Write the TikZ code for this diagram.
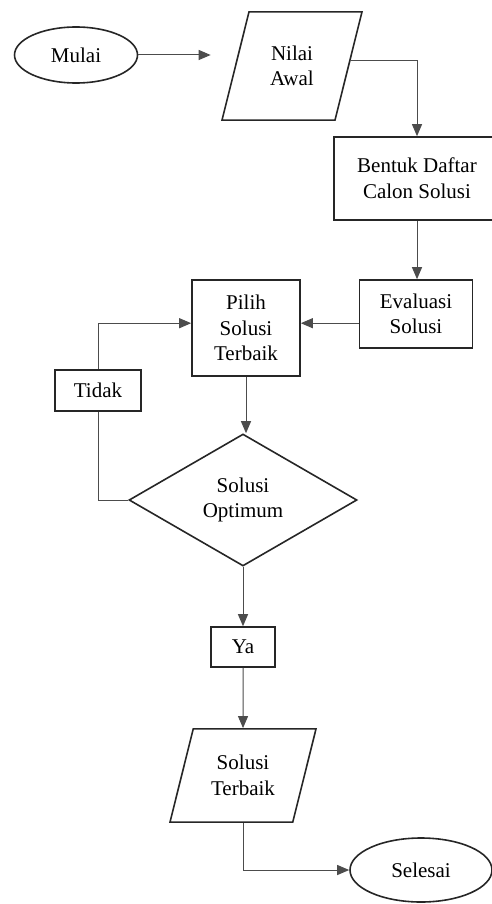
\documentclass[tikz,border=0pt]{standalone}
\usepackage{fontspec}
\setmainfont{Liberation Serif}
\usetikzlibrary{shapes.geometric}
\usetikzlibrary{arrows.meta}

\begin{document}
\begin{tikzpicture}
      [x=0.5pt,y=-0.5pt,
       every node/.style={font=\fontsize{10.5}{12.8}\selectfont,align=center,
                          draw=black!85,line width=0.8pt,inner sep=0pt},
       term/.style={ellipse},
       io/.style={trapezium,trapezium left angle=76,trapezium right angle=104,
                  trapezium stretches body},
       proc/.style={rectangle},
       cond/.style={diamond},
       conn/.style={draw=black!70,line width=0.5pt},
       link/.style={conn,-{Triangle[length=6pt,width=5pt]}}]
    \useasboundingbox (0,0) rectangle (492,904);

    \node[term,minimum width=61.5pt,minimum height=28pt]  (mulai)  at (76,55)   {Mulai};
    \node[io,minimum width=70pt,inner ysep=17pt]          (nilai)  at (292,66)  {Nilai\\Awal};
    \node[proc,minimum width=83pt,minimum height=41.5pt]  (bentuk) at (417,178.5) {Bentuk Daftar\\Calon Solusi};
    \node[proc,minimum width=56.5pt,minimum height=34pt]  (eval)   at (416,314) {Evaluasi\\Solusi};
    \node[proc,minimum width=54pt,minimum height=48pt]    (pilih)  at (246,328) {Pilih\\Solusi\\Terbaik};
    \node[proc,minimum width=43pt,minimum height=20.5pt]  (tidak)  at (98,390.5) {Tidak};
    \node[cond,minimum width=114pt,minimum height=66pt]   (opt)    at (243,500) {Solusi\\Optimum};
    \node[proc,minimum width=32pt,minimum height=20pt]    (ya)     at (243,647) {Ya};
    \node[io,minimum width=73pt,inner ysep=13.2pt]        (hasil)  at (243,775.5) {Solusi\\Terbaik};
    \node[term,minimum width=71pt,minimum height=32pt]    (selesai) at (421,870) {Selesai};

    \draw[link,shorten >=12pt] (mulai.east) -- (mulai.east -| nilai.west);
    \draw[link] (nilai.5) -| (bentuk.north);
    \draw[link] (bentuk.south) -- (bentuk.south |- eval.north);
    \draw[link] (eval.west |- pilih.5) -- (pilih.5);
    \draw[link] (tidak.north) |- (pilih.175);
    \draw[conn] (tidak.south) |- (opt.west);
    \draw[link] (pilih.south) -- (pilih.south |- opt.north);
    \draw[link] (opt.south) -- (ya.north);
    \draw[link] (ya.south) -- (hasil.north);
    \draw[link] (hasil.south) |- (selesai.west);
\end{tikzpicture}
\end{document}
